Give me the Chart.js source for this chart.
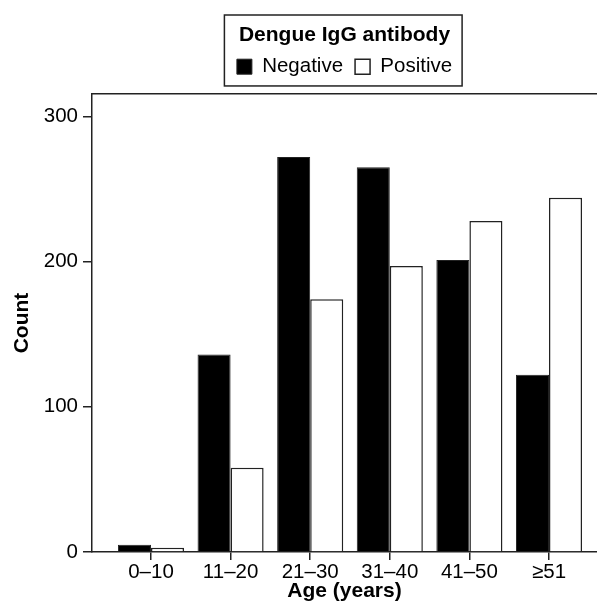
<!DOCTYPE html>
<html>
<head>
<meta charset="utf-8">
<script src="https://cdn.jsdelivr.net/npm/chart.js@4.4.1/dist/chart.umd.min.js"></script>
<style>
  html, body { margin: 0; padding: 0; background: #fff; }
  #wrap { width: 597px; height: 614px; position: relative; }
</style>
</head>
<body>
<div id="wrap"><canvas id="myChart"></canvas></div>
<script>
const ageGroups = ['0–10', '11–20', '21–30', '31–40', '41–50', '≥51'];
const negative  = [5, 136, 272, 265, 201, 122];
const positive  = [3, 58, 174, 197, 228, 244];
const yTicks    = [0, 100, 200, 300];

const ink = '#222';
Chart.defaults.font.family = "'Liberation Sans', Arial, Helvetica, sans-serif";
Chart.defaults.color = '#000';

// thin frame around the legend (title + items)
const legendFrame = {
  id: 'legendFrame',
  afterDraw(chart) {
    const lg = chart.legend;
    const boxes = lg.legendHitBoxes;
    if (!boxes || !boxes.length) return;
    const first = boxes[0];
    const last = boxes[boxes.length - 1];
    const ctx = chart.ctx;
    ctx.save();
    ctx.strokeStyle = ink;
    ctx.lineWidth = 1.5;
    const x0 = first.left - 12.5;
    const x1 = last.left + last.width + 10;
    ctx.strokeRect(x0, lg.top, x1 - x0, lg.height - 1);
    ctx.restore();
  }
};

new Chart(document.getElementById('myChart'), {
  type: 'bar',
  data: {
    datasets: [
      {
        label: 'Negative',
        data: negative.map((v, i) => ({ x: i, y: v })),
        backgroundColor: '#000',
        borderColor: ink,
        borderWidth: 1
      },
      {
        label: 'Positive',
        data: positive.map((v, i) => ({ x: i, y: v })),
        backgroundColor: '#fff',
        borderColor: ink,
        borderWidth: 1.5
      }
    ]
  },
  options: {
    responsive: true,
    maintainAspectRatio: false,
    animation: false,
    datasets: { bar: { categoryPercentage: 0.83, barPercentage: 1 } },
    layout: { padding: { top: 15, left: 0, right: 0, bottom: 0 } },
    plugins: {
      tooltip: { enabled: false },
      legend: {
        position: 'top',
        fullSize: false,
        title: {
          display: true,
          text: 'Dengue IgG antibody',
          color: '#000',
          font: { size: 21, weight: 'bold', lineHeight: 0.95 },
          padding: { top: 9.5, bottom: 0 }
        },
        labels: {
          boxWidth: 15,
          boxHeight: 15,
          padding: 12,
          color: '#000',
          font: { size: 20.5 }
        }
      }
    },
    scales: {
      x: {
        type: 'linear',
        min: -0.741,
        max: 5.603,
        offset: false,
        afterBuildTicks: s => { s.ticks = ageGroups.map((_, i) => ({ value: i })); },
        afterFit: s => { s.height = 62; },
        ticks: {
          padding: 0,
          color: '#000',
          autoSkip: false,
          maxRotation: 0,
          font: { size: 20.5 },
          callback: v => ageGroups[v]
        },
        grid: { offset: false, drawOnChartArea: false, tickLength: 8, color: ink, lineWidth: 1.5 },
        border: { display: true, color: ink, width: 1.5 },
        title: {
          display: true,
          text: 'Age (years)',
          color: '#000',
          font: { size: 21, weight: 'bold' },
          padding: { top: 0, bottom: 10 }
        }
      },
      x2: {
        type: 'linear',
        position: 'top',
        offset: false,
        grid: { display: false },
        ticks: { display: false },
        border: { display: true, color: ink, width: 1.5 },
        afterFit: s => { s.height = 7; }
      },
      y: {
        min: 0,
        max: 315.4,
        afterBuildTicks: s => { s.ticks = yTicks.map(v => ({ value: v })); },
        afterFit: s => { s.width = 92; },
        ticks: { padding: 5, color: '#000', font: { size: 20.5 } },
        grid: { drawOnChartArea: false, tickLength: 9, color: ink, lineWidth: 1.5 },
        border: { display: true, color: ink, width: 1.5 },
        title: {
          display: true,
          text: 'Count',
          color: '#000',
          font: { size: 21, weight: 'bold' },
          padding: { top: 10, bottom: 0 }
        }
      }
    }
  },
  plugins: [legendFrame]
});
</script>
</body>
</html>
